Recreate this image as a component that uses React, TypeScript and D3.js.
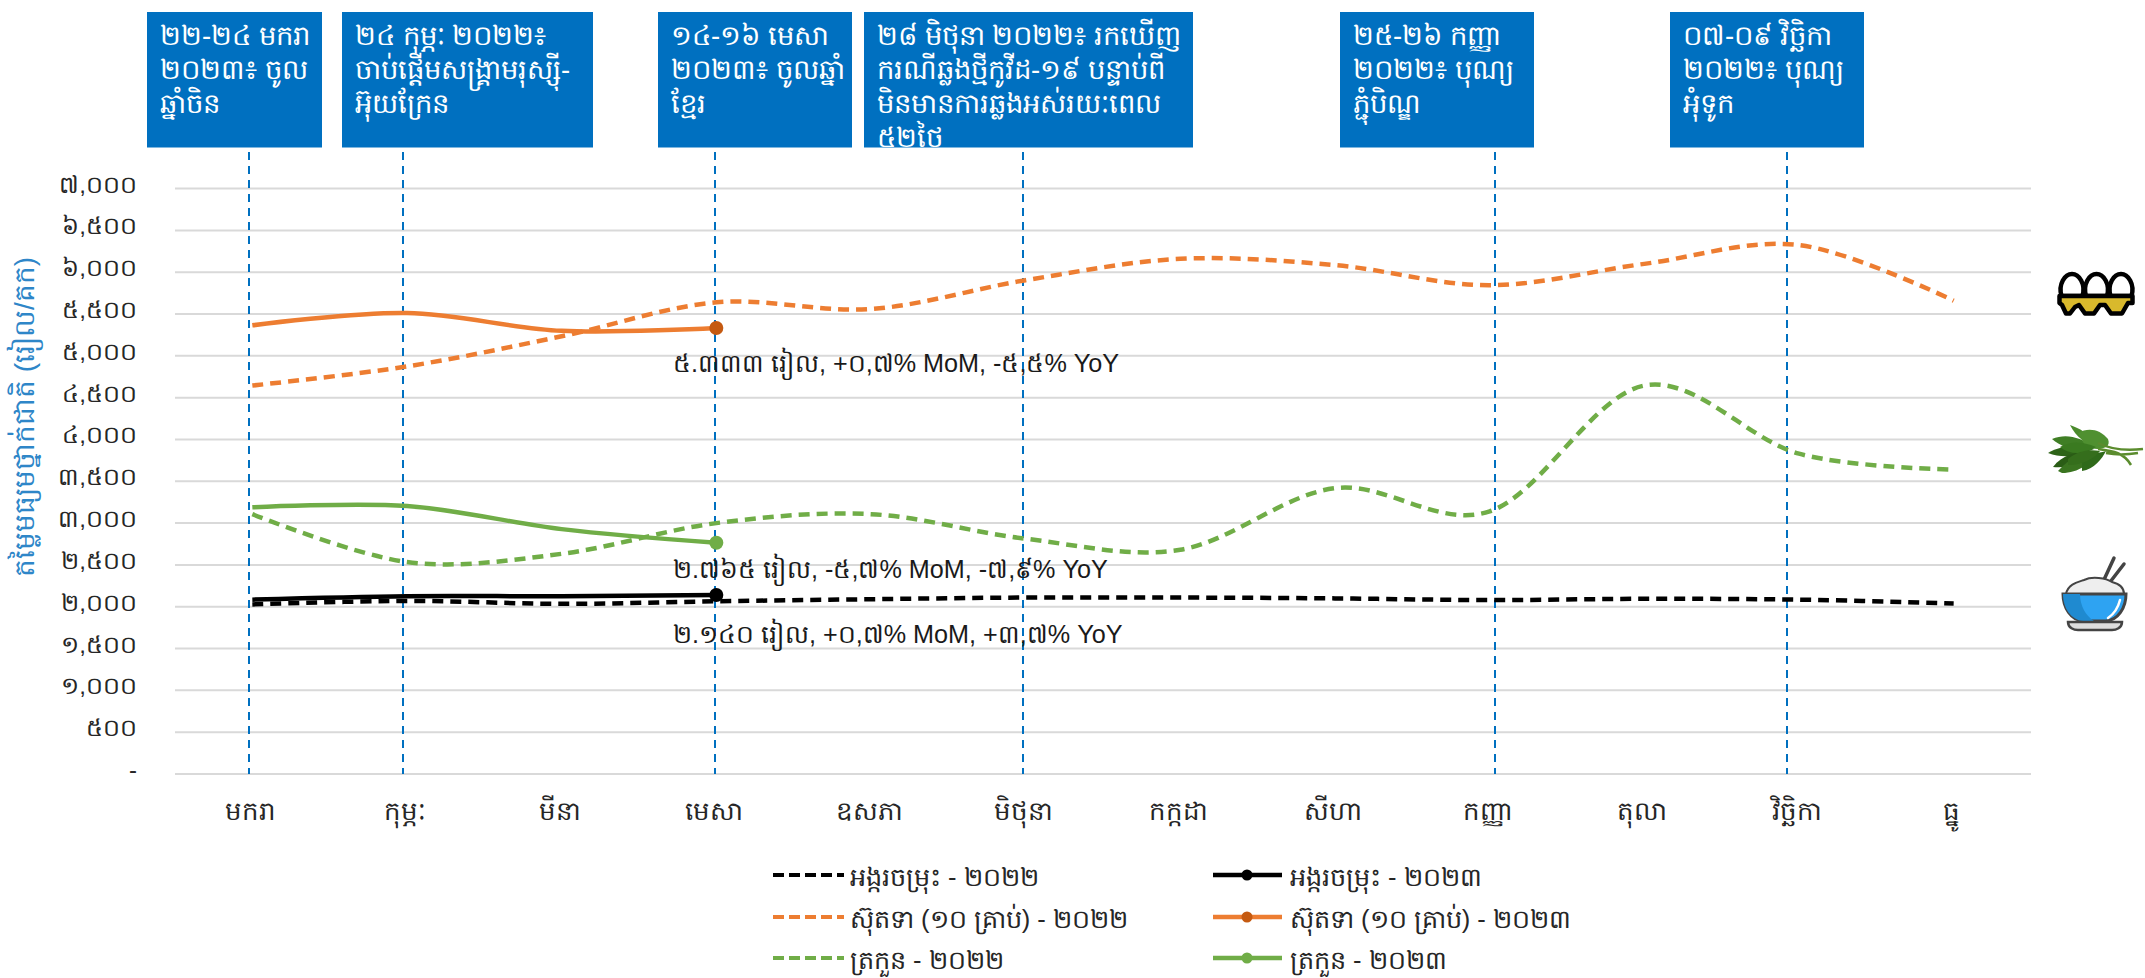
import React from "react";
import * as d3 from "d3";

const months = ["មករា","កុម្ភៈ","មីនា","មេសា","ឧសភា","មិថុនា","កក្កដា","សីហា","កញ្ញា","តុលា","វិច្ឆិកា","ធ្នូ"];
const yTicks = [0,500,1000,1500,2000,2500,3000,3500,4000,4500,5000,5500,6000,6500,7000];
const yTickLabels = ["-","៥០០","១,០០០","១,៥០០","២,០០០","២,៥០០","៣,០០០","៣,៥០០","៤,០០០","៤,៥០០","៥,០០០","៥,៥០០","៦,០០០","៦,៥០០","៧,០០០"];

const rice2022 = [2028,2070,2035,2065,2090,2110,2110,2100,2080,2095,2085,2040];
const rice2023 = [2085,2126,2126,2140];
const egg2022 = [4645,4874,5234,5640,5560,5905,6160,6085,5845,6100,6325,5660];
const egg2023 = [5365,5512,5299,5333];
const veg2022 = [3107,2535,2633,3000,3107,2813,2682,3418,3140,4645,3830,3640];
const veg2023 = [3189,3205,2928,2765];

const yAxisTitle = "តម្លៃមធ្យមថ្នាក់ជាតិ (រៀល/គក)";

const lines2022 = [
  { values: rice2022, color: "#000000" },
  { values: egg2022, color: "#ED7D31" },
  { values: veg2022, color: "#70AD47" },
];
const lines2023 = [
  { values: rice2023, color: "#000000", dot: "#000000" },
  { values: egg2023, color: "#ED7D31", dot: "#C55A11" },
  { values: veg2023, color: "#70AD47", dot: "#70AD47" },
];

const events = [
  { x0: 147, x1: 322, lineX: 249, lines: ["២២-២៤ មករា","២០២៣៖ ចូល","ឆ្នាំចិន"] },
  { x0: 342, x1: 593, lineX: 403, lines: ["២៤ កុម្ភៈ ២០២២៖","ចាប់ផ្តើមសង្គ្រាមរុស្ស៊ី-","អ៊ុយក្រែន"] },
  { x0: 658, x1: 852, lineX: 715, lines: ["១៤-១៦ មេសា","២០២៣៖ ចូលឆ្នាំ","ខ្មែរ"] },
  { x0: 864, x1: 1193, lineX: 1023, lines: ["២៨ មិថុនា ២០២២៖ រកឃើញ","ករណីឆ្លងថ្មីកូវីដ-១៩ បន្ទាប់ពី","មិនមានការឆ្លងអស់រយៈពេល","៥២ថ្ងៃ"] },
  { x0: 1340, x1: 1534, lineX: 1495, lines: ["២៥-២៦ កញ្ញា","២០២២៖ បុណ្យ","ភ្ជុំបិណ្ឌ"] },
  { x0: 1670, x1: 1864, lineX: 1787, lines: ["០៧-០៩ វិច្ឆិកា","២០២២៖ បុណ្យ","អុំទូក"] },
];

const notes = [
  { text: "៥.៣៣៣ រៀល, +០,៧% MoM, -៥,៥% YoY", y: 372 },
  { text: "២.៧៦៥ រៀល, -៥,៧% MoM, -៧,៩% YoY", y: 578 },
  { text: "២.១៤០ រៀល, +០,៧% MoM, +៣,៧% YoY", y: 643 },
];

const legendRows = [
  { label: "អង្ករចម្រុះ", color: "#000000", dot: "#000000", y: 875 },
  { label: "ស៊ុតទា (១០ គ្រាប់)", color: "#ED7D31", dot: "#C55A11", y: 917 },
  { label: "ត្រកួន", color: "#70AD47", dot: "#70AD47", y: 958 },
];

const FONT = "'Liberation Sans',Arial,sans-serif";

const x = d3.scaleBand<number>().domain(d3.range(12)).range([175, 2031]);
const y = d3.scaleLinear().domain([0, 7000]).range([774, 188.6]);
const cx = (i: number) => (x(i) as number) + x.bandwidth() / 2;
const line = d3.line<number>().x((_, i) => cx(i)).y((d) => y(d)).curve(d3.curveCardinal.tension(0));

function EggIcon() {
  const eggs = [0, 1, 2];
  return (
    <g transform="translate(2057,272)">
      {eggs.map((i) => (
        <g key={i} transform={`translate(${15 + i * 24.5},0)`}>
          <path d="M-10.5 24 C-14 12 -7 2 0 2 C7 2 14 12 10.5 24 Z" fill="#fff" stroke="#000" strokeWidth="4.5" />
        </g>
      ))}
      <path d="M2.5 24 H75.5 V31 H71 L65 41.5 H54 L48 33 H43 L37 41.5 H28 L22 33 L18 35 L13 41.5 H9 L5 33 L2.5 31 Z" fill="#D9B92C" stroke="#000" strokeWidth="4.5" strokeLinejoin="round" />
    </g>
  );
}

function VegIcon() {
  const leaves = [
    "M0 28 C14 20 30 20 46 24 L30 30 C20 32 10 32 0 28Z",
    "M4 14 C18 8 32 12 46 22 C30 26 16 24 4 14Z",
    "M5 42 C14 30 28 26 46 26 C38 36 22 44 5 42Z",
    "M22 0 C30 3 42 8 52 22 C38 20 28 12 22 0Z",
    "M10 46 C22 32 36 28 50 28 C44 38 30 48 14 48Z",
    "M30 8 C40 2 52 4 60 14 C64 24 50 26 38 22Z",
    "M34 34 C44 28 52 28 58 26 C54 34 46 44 34 46 Z",
    "M12 22 C22 16 34 16 48 22 C36 30 22 30 12 22Z",
    "M20 34 C30 26 40 24 52 26 C46 34 34 40 20 40Z",
  ];
  const fills = ["#2D6318","#3F7E25","#2A5C16","#4A8A2C","#3A7420","#4F9030","#2F6A1A","#3A7A20","#356E1C"];
  return (
    <g transform="translate(2048,425)">
      {leaves.map((d, i) => <path key={i} d={d} fill={fills[i]} />)}
      <path d="M50 18 C62 24 78 26 95 24 M50 24 C66 26 76 28 83 40 M58 28 C68 30 78 30 90 28" fill="none" stroke="#5B8C2E" strokeWidth="2.5" />
    </g>
  );
}

function BowlIcon() {
  return (
    <g transform="translate(2062,558)">
      <path d="M40 26 L52 0 M45 28 L62 6" stroke="#444" strokeWidth="3.5" strokeLinecap="round" />
      <path d="M4 36 C6 26 16 24 22 22 C30 18 44 20 50 24 C58 26 62 30 62 36 Z" fill="#EEEEEE" stroke="#444" strokeWidth="2" />
      <path d="M1 36 H64 C64 50 56 62 44 63 H21 C9 62 1 50 1 36 Z" fill="#2EA3F2" stroke="#444" strokeWidth="3" />
      <path d="M1 36 H18 C18 48 24 58 32 63 H21 C9 62 1 50 1 36 Z" fill="#1F8AD0" />
      <path d="M46 60 C52 56 56 50 58 42" fill="none" stroke="#fff" strokeWidth="2.5" strokeLinecap="round" />
      <path d="M6 64 H60 C60 70 54 72 50 72 H16 C12 72 6 70 6 64 Z" fill="#DDDDDD" stroke="#444" strokeWidth="2.5" />
    </g>
  );
}

export default function App() {
  return (
    <svg width={2145} height={978} style={{ position: "absolute", left: 0, top: 0, background: "#fff" }} fontFamily={FONT}>
      {yTicks.map((t, i) => (
        <g key={t}>
          <line x1={175} x2={2031} y1={y(t)} y2={y(t)} stroke="#D9D9D9" strokeWidth={2} />
          <text x={137} y={y(t) + 4} textAnchor="end" fontSize={24} fill="#262626">{yTickLabels[i]}</text>
        </g>
      ))}
      <text transform="translate(34,417) rotate(-90)" textAnchor="middle" fontSize={28} fill="#2E86C8">{yAxisTitle}</text>

      {events.map((e, i) => (
        <g key={i}>
          <line x1={e.lineX} x2={e.lineX} y1={152} y2={774} stroke="#0070C0" strokeWidth={2} strokeDasharray="8 6" />
          <rect x={e.x0} y={12} width={e.x1 - e.x0} height={135.5} fill="#0070C0" />
          <text fill="#fff" fontSize={27.5}>
            {e.lines.map((l, k) => <tspan key={k} x={e.x0 + 13} y={45 + k * 34}>{l}</tspan>)}
          </text>
        </g>
      ))}

      {lines2022.map((s, i) => (
        <path key={i} d={line(s.values) as string} fill="none" stroke={s.color} strokeWidth={4.5} strokeDasharray="11 7" />
      ))}
      {lines2023.map((s, i) => (
        <g key={i}>
          <path d={line(s.values) as string} fill="none" stroke={s.color} strokeWidth={4.5} />
          <circle cx={cx(s.values.length - 1)} cy={y(s.values[s.values.length - 1])} r={7} fill={s.dot} />
        </g>
      ))}

      {notes.map((n, i) => (
        <text key={i} x={673} y={n.y} fontSize={25.2} fill="#1a1a1a">{n.text}</text>
      ))}

      {months.map((m, i) => (
        <text key={i} x={cx(i) - 2} y={820} textAnchor="middle" fontSize={26} fill="#262626">{m}</text>
      ))}

      {legendRows.map((r, i) => (
        <g key={i}>
          <line x1={773} x2={844} y1={r.y} y2={r.y} stroke={r.color} strokeWidth={4} strokeDasharray="11 5" />
          <text x={850} y={r.y + 11} fontSize={25.5} fill="#262626">{r.label + " - ២០២២"}</text>
          <line x1={1213} x2={1282} y1={r.y} y2={r.y} stroke={r.color} strokeWidth={4.5} />
          <circle cx={1247} cy={r.y} r={5.5} fill={r.dot} />
          <text x={1290} y={r.y + 11} fontSize={25.5} fill="#262626">{r.label + " - ២០២៣"}</text>
        </g>
      ))}

      <EggIcon />
      <VegIcon />
      <BowlIcon />
    </svg>
  );
}
